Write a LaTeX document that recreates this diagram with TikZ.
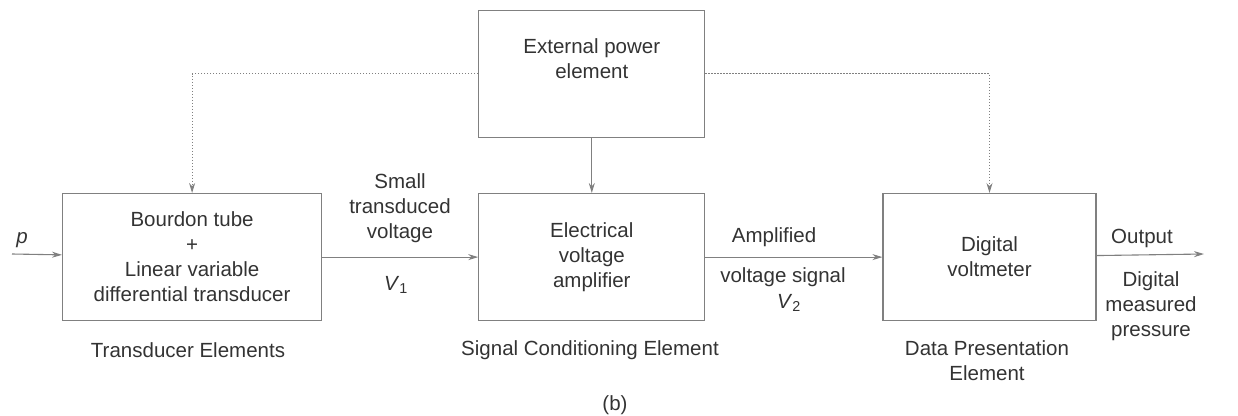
\documentclass[tikz,border=0pt]{standalone}
\usepackage{fontspec}
\setmainfont{Liberation Sans}
\usetikzlibrary{arrows.meta,positioning}
\definecolor{Frame}{HTML}{808080}
\definecolor{Ink}{HTML}{333333}
\tikzset{block/.style={draw=Frame,line width=1.2pt,align=center,
  minimum height=127pt,inner sep=0pt,text=Ink},
  flow/.style={-{Stealth[length=10pt,width=6pt]},draw=Frame,line width=1.1pt},
  supply/.style={flow,dash pattern=on 1.5pt off 1.5pt,line width=0.9pt},
  tag/.style={align=center,text=Ink,inner sep=0pt}}

\begin{document}
\begin{tikzpicture}[x=1pt,y=-1pt,font=\fontsize{20.5}{25}\selectfont]
\useasboundingbox (0,0) rectangle (1238,415);
\node[block,minimum width=259pt,anchor=north west] (td) at (62,193)
  {Bourdon tube\\+\\Linear variable\\differential transducer};
\node[block,minimum width=226pt,right=156pt of td] (amp) {Electrical\\voltage\\amplifier};
\node[block,minimum width=213pt,right=177pt of amp] (dvm) {Digital\\voltmeter};
\node[block,minimum width=226pt,above=55pt of amp] (pwr) {External power\\element\\[6pt]};
\coordinate (in) at (12,254);
\coordinate (out) at (1204,254);
\draw[flow] (in)--(td);\draw[flow] (td)--(amp);
\draw[flow] (amp)--(dvm);\draw[flow] (dvm)--(out);
\draw[flow] (pwr)--(amp);
\draw[supply] (pwr.west) -| (td);\draw[supply] (pwr.east) -| (dvm);
% signal labels
\node[tag] (p) at (22,240) {\textit{p}};
\node[tag] (sv) at (400,208) {Small\\transduced\\voltage};
\node[tag] (v1) at (396,285) {\textit{V}\textsubscript{1}};
\node[tag] (am) at (774,237) {Amplified};
\node[tag] (vs) at (783,277) {voltage signal};
\node[tag] (v2) at (789,303) {\textit{V}\textsubscript{2}};
\node[tag] (op) at (1142,238) {Output};
\node[tag] (dm) at (1151,306) {Digital\\measured\\pressure};
% element captions
\node[tag] (c1) at (188,350) {Transducer Elements};
\node[tag] (c2) at (590,350) {Signal Conditioning Element};
\node[tag] (c3) at (987,361) {Data Presentation\\Element};
\node[tag] (b) at (615,405) {(b)};
\end{tikzpicture}
\end{document}
